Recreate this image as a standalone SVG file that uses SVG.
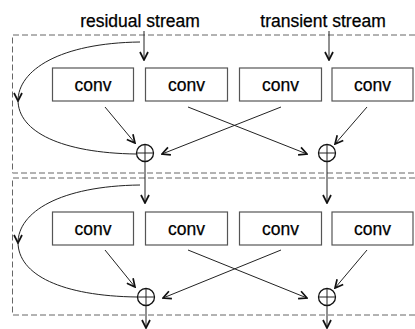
<svg xmlns="http://www.w3.org/2000/svg" width="415" height="329" viewBox="0 0 415 329">
<defs>
<style>
.lbl{font-family:"Liberation Sans",Arial,sans-serif;font-size:17.5px;fill:#000;stroke:#000;stroke-width:0.25;text-anchor:middle}
.box{fill:#fff;stroke:#555;stroke-width:1.2}
.dash{fill:none;stroke:#666;stroke-width:1;stroke-dasharray:6,3}
.ln{fill:none;stroke:#222;stroke-width:1}
.circ{fill:#fff;stroke:#111;stroke-width:1.3}
</style>
<marker id="ah" viewBox="0 0 10 10" refX="9" refY="5" markerWidth="10" markerHeight="10" markerUnits="userSpaceOnUse" orient="auto">
<path d="M1,1 L9,5 L1,9" fill="none" stroke="#111" stroke-width="1.7"/>
</marker>
</defs>
<g id="panels">
<path class="dash" d="M415,35 H12.5 V173 H415"/>
<path class="dash" d="M415,178 H12.5 V315 H415"/>
</g>
<g id="labels">
<text class="lbl" x="140" y="27">residual stream</text>
<text class="lbl" x="323" y="27">transient stream</text>
</g>
<g id="conv1a"><rect class="box" x="52.5" y="68" width="81" height="33"/><text class="lbl" x="93" y="91">conv</text></g>
<g id="conv2a"><rect class="box" x="145.5" y="68" width="82" height="33"/><text class="lbl" x="186.5" y="91">conv</text></g>
<g id="conv3a"><rect class="box" x="239.5" y="68" width="82" height="33"/><text class="lbl" x="280.5" y="91">conv</text></g>
<g id="conv4a"><rect class="box" x="332" y="68" width="81" height="33"/><text class="lbl" x="372.5" y="91">conv</text></g>
<g id="conv1b"><rect class="box" x="52.5" y="212" width="81" height="33"/><text class="lbl" x="93" y="235">conv</text></g>
<g id="conv2b"><rect class="box" x="145.5" y="212" width="82" height="33"/><text class="lbl" x="186.5" y="235">conv</text></g>
<g id="conv3b"><rect class="box" x="239.5" y="212" width="82" height="33"/><text class="lbl" x="280.5" y="235">conv</text></g>
<g id="conv4b"><rect class="box" x="332" y="212" width="81" height="33"/><text class="lbl" x="372.5" y="235">conv</text></g>
<g id="connectors">
<line class="ln" x1="144" y1="31" x2="144" y2="60" marker-end="url(#ah)"/>
<line class="ln" x1="329" y1="31" x2="329" y2="60" marker-end="url(#ah)"/>
<path class="ln" d="M140,42 C60,43 18,70 18,101" marker-end="url(#ah)"/>
<path class="ln" d="M18,100 C18,132 62,153 136,154"/>
<line class="ln" x1="105" y1="107" x2="135" y2="143" marker-end="url(#ah)"/>
<line class="ln" x1="281" y1="107" x2="162" y2="154" marker-end="url(#ah)"/>
<line class="ln" x1="188" y1="107" x2="307" y2="154" marker-end="url(#ah)"/>
<line class="ln" x1="367" y1="107" x2="335" y2="144" marker-end="url(#ah)"/>
<line class="ln" x1="145" y1="162" x2="145" y2="203" marker-end="url(#ah)"/>
<line class="ln" x1="327" y1="162" x2="327" y2="203" marker-end="url(#ah)"/>
<path class="ln" d="M140,185 C60,186 18,212 18,243" marker-end="url(#ah)"/>
<path class="ln" d="M18,242 C18,275 62,296 137,297"/>
<line class="ln" x1="105" y1="250" x2="135" y2="287" marker-end="url(#ah)"/>
<line class="ln" x1="281" y1="250" x2="163" y2="298" marker-end="url(#ah)"/>
<line class="ln" x1="188" y1="250" x2="307" y2="298" marker-end="url(#ah)"/>
<line class="ln" x1="367" y1="250" x2="335" y2="288" marker-end="url(#ah)"/>
<line class="ln" x1="146" y1="306" x2="146" y2="328" marker-end="url(#ah)"/>
<line class="ln" x1="327" y1="306" x2="327" y2="328" marker-end="url(#ah)"/>
</g>
<g id="sum1a"><circle class="circ" cx="145" cy="153" r="8.5"/><path class="ln" d="M136.5,153 H153.5 M145,144.5 V161.5" stroke="#111"/></g>
<g id="sum2a"><circle class="circ" cx="327" cy="153" r="8.5"/><path class="ln" d="M318.5,153 H335.5 M327,144.5 V161.5" stroke="#111"/></g>
<g id="sum1b"><circle class="circ" cx="146" cy="297" r="8.5"/><path class="ln" d="M137.5,297 H154.5 M146,288.5 V305.5" stroke="#111"/></g>
<g id="sum2b"><circle class="circ" cx="327" cy="297" r="8.5"/><path class="ln" d="M318.5,297 H335.5 M327,288.5 V305.5" stroke="#111"/></g>
</svg>
